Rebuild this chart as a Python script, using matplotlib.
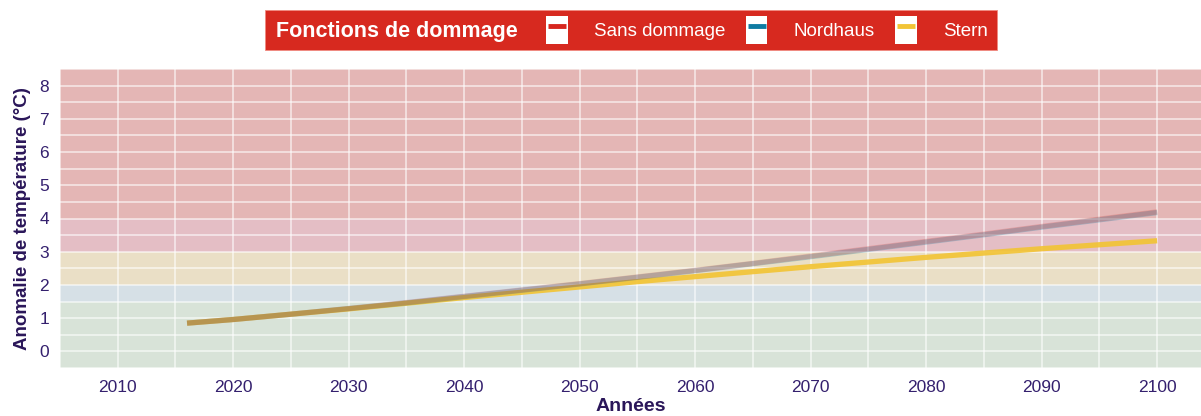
import matplotlib.pyplot as plt
from matplotlib.patches import Rectangle
from matplotlib.lines import Line2D
from matplotlib.legend_handler import HandlerTuple

plt.rcParams['font.family'] = ['Liberation Sans', 'DejaVu Sans']

# données
annees = [2016, 2020, 2025, 2030, 2035, 2040, 2045, 2050, 2055, 2060,
          2065, 2070, 2075, 2080, 2085, 2090, 2095, 2100]
sans_dommage = [0.85, 0.96, 1.12, 1.29, 1.47, 1.66, 1.85, 2.04, 2.24, 2.44,
                2.65, 2.87, 3.09, 3.31, 3.53, 3.76, 3.98, 4.20]
nordhaus = [0.85, 0.96, 1.12, 1.29, 1.46, 1.65, 1.84, 2.03, 2.23, 2.43,
            2.64, 2.85, 3.07, 3.29, 3.51, 3.74, 3.96, 4.18]
stern = [0.85, 0.96, 1.12, 1.28, 1.45, 1.62, 1.78, 1.94, 2.10, 2.25,
         2.40, 2.55, 2.69, 2.83, 2.96, 3.09, 3.21, 3.33]
noms = ['Sans dommage', 'Nordhaus', 'Stern']
couleurs = ['#d7261e', '#0f7ba2', '#f2c436']

# zones de température (bas, haut, couleur)
zones = [(-1, 1.5, '#d8e3d8'), (1.5, 2, '#d6e0e6'), (2, 3, '#eadfc6'),
         (3, 4, '#e4bec5'), (4, 9, '#e4b6b5')]

violet = '#34206e'

fig = plt.figure(figsize=(12.01, 4.16), dpi=100)
ax = fig.add_axes([60 / 1201, 48 / 416, 1141 / 1201, 299 / 416])

for bas, haut, c in zones:
    ax.axhspan(bas, haut, color=c, lw=0, zorder=0)

ax.set_xlim(2005.5, 2103.8)
ax.set_ylim(-0.42, 8.45)
ax.set_xticks(range(2010, 2101, 10))
ax.set_xticks(range(2005, 2104, 5), minor=True)
ax.set_yticks(range(0, 9))
ax.set_yticks([i + 0.5 for i in range(-1, 9)], minor=True)
ax.grid(True, which='both', color='white', alpha=0.55, lw=1.4, zorder=1)
ax.set_axisbelow(True)
for s in ax.spines.values():
    s.set_visible(False)
ax.tick_params(which='both', length=0, labelsize=12.5, colors=violet)
ax.tick_params(axis='x', pad=9)
ax.tick_params(axis='y', pad=8)

# ordre de tracé : Stern dessous, puis Nordhaus et Sans dommage en transparence
ordre = [2, 1, 0]
alphas = {0: 0.2, 1: 0.28, 2: 0.92}
series = [sans_dommage, nordhaus, stern]
for i in ordre:
    ax.plot(annees, series[i], color=couleurs[i], lw=3.8, alpha=alphas[i],
            solid_capstyle='butt', zorder=3 + ordre.index(i), label=noms[i])

ax.set_xlabel('Années', fontsize=14, fontweight='bold', color='#2a1659', labelpad=2)
ax.set_ylabel('Anomalie de température (°C)', fontsize=13.5, fontweight='bold',
              color='#2a1659', labelpad=6)

# légende en bandeau rouge
fig.patches.append(Rectangle((265 / 1201, 366 / 416), 732 / 1201, 40 / 416,
                             transform=fig.transFigure, facecolor='#d7291f',
                             edgecolor='#f08a80', lw=0.6, zorder=0))
fig.text(276 / 1201, 1 - 31 / 416, 'Fonctions de dommage', color='white',
         fontsize=15.5, fontweight='bold', ha='left', va='center')
poignees = [(Rectangle((0, 0), 1, 1, facecolor='white', edgecolor='none'),
             Line2D([], [], ls='none', marker='_', markersize=13,
                    markeredgewidth=3.5, color=c)) for c in couleurs]
leg = fig.legend(poignees, noms, loc='center right',
                 bbox_to_anchor=(988 / 1201, 1 - 30 / 416), ncol=3,
                 frameon=False, fontsize=13.5, labelcolor='white',
                 handler_map={tuple: HandlerTuple(ndivide=1, pad=0)},
                 handlelength=1.15, handleheight=1.9, handletextpad=1.4,
                 columnspacing=1.1, borderpad=0, borderaxespad=0)

fig.savefig('out.png', dpi=100)
